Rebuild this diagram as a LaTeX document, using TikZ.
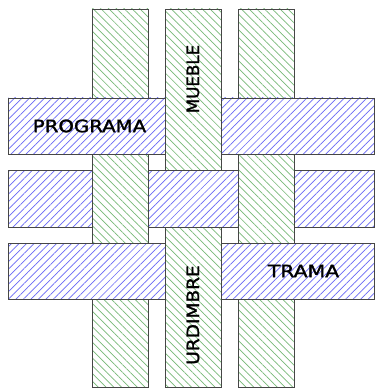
\documentclass[tikz,border=0pt]{standalone}
\usepackage{fontspec}
\setmainfont{DejaVu Sans}[FakeBold=1.5]
\usetikzlibrary{patterns.meta}
\definecolor{weftblue}{RGB}{105,105,245}
\definecolor{warpgreen}{RGB}{120,185,120}
\definecolor{edge}{RGB}{70,70,70}
\tikzset{
  band/.style={draw=edge, line width=0.9pt, inner sep=0pt, outer sep=0pt, anchor=north west, preaction={fill=white}},
  weft/.style={band, pattern={Lines[angle=45,distance=5.3pt,line width=0.7pt]}, pattern color=weftblue},
  warp/.style={band, pattern={Lines[angle=-45,distance=5.5pt,line width=0.7pt]}, pattern color=warpgreen},
  lbl/.style={font=\fontsize{17}{17}\selectfont, text=black, inner sep=0pt}
}
\begin{document}
\begin{tikzpicture}[x=1pt,y=-1pt]
\useasboundingbox (0,0) rectangle (375,390);
% row 2 (under strips 1 and 3)
\node[weft, minimum width=366pt, minimum height=57pt] (r2) at (8,170) {};
% strips 1 and 3
\node[warp, minimum width=56pt, minimum height=378pt] (s1) at (92,9) {};
\node[warp, minimum width=56pt, minimum height=378pt] (s3) at (238,9) {};
% rows 1 and 3
\node[weft, minimum width=366pt, minimum height=56pt] (r1) at (8,98) {};
\node[weft, minimum width=366pt, minimum height=56pt] (r3) at (8,243) {};
% strip 2
\node[warp, minimum width=56pt, minimum height=378pt] (s2) at (165,9) {};
% row 2 middle over strip 2
\node[weft, minimum width=90pt, minimum height=57pt] (r2m) at (148,170) {};
% labels
\node[lbl] (programa) at (89.5,126) {\scalebox{1.16}[1]{PROGRAMA}};
\node[lbl] (trama) at (303.5,271) {\scalebox{1.2}[1]{TRAMA}};
\node[lbl, rotate=90] (mueble) at (193,79) {\scalebox{0.98}[1]{MUEBLE}};
\node[lbl, rotate=90] (urdimbre) at (193,315) {\scalebox{1.09}[1]{URDIMBRE}};
\end{tikzpicture}
\end{document}
